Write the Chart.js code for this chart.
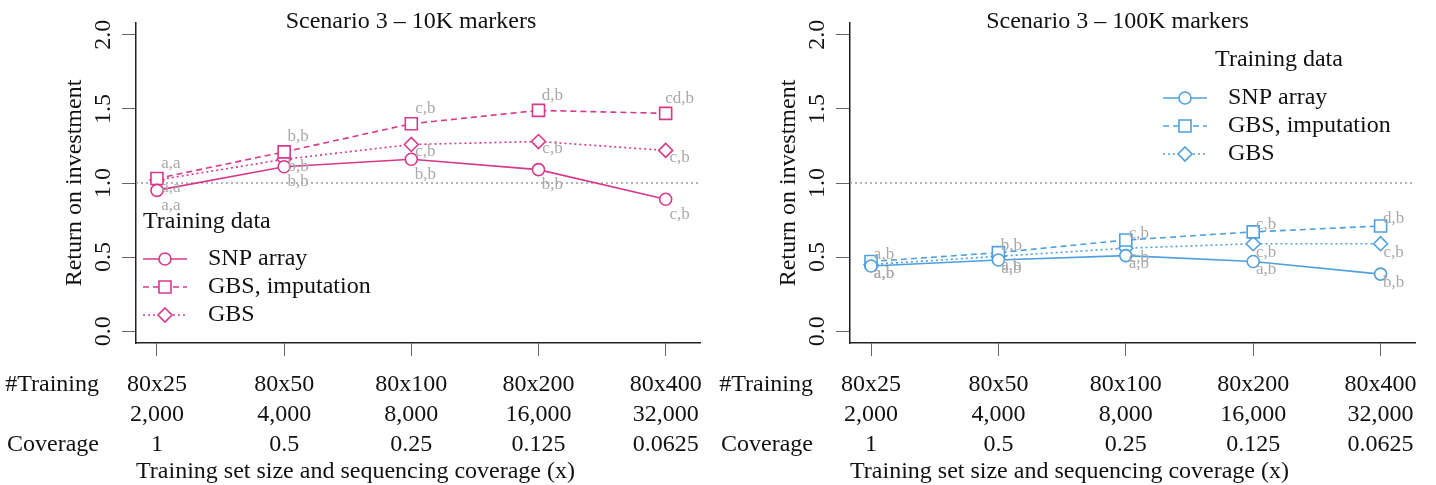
<!DOCTYPE html>
<html>
<head>
<meta charset="utf-8">
<script src="https://cdn.jsdelivr.net/npm/chart.js@4.4.0/dist/chart.umd.min.js"></script>
<style>
body{margin:0;background:#fff;}
#wrap{position:relative;width:1436px;height:485px;}
canvas{position:absolute;top:0;}
</style>
</head>
<body>
<div id="wrap">
<canvas id="c10k" width="718" height="485" style="left:0"></canvas>
<canvas id="c100k" width="718" height="485" style="left:718px"></canvas>
</div>
<script>
// x categories (training scenarios), shared by both panels
const xPos = [0, 1, 2, 3, 4];
const trainingSets = ['80x25', '80x50', '80x100', '80x200', '80x400'];
const trainingSizes = ['2,000', '4,000', '8,000', '16,000', '32,000'];
const coverages = ['1', '0.5', '0.25', '0.125', '0.0625'];
const yTicks = [0, 0.5, 1, 1.5, 2];
const seriesNames = ['SNP array', 'GBS, imputation', 'GBS'];

// Scenario 3 - 10K markers
const snp10k = [0.95, 1.11, 1.16, 1.09, 0.89];
const imp10k = [1.03, 1.21, 1.40, 1.49, 1.47];
const gbs10k = [1.02, 1.16, 1.26, 1.28, 1.22];
const snpLetters10k = ['a,a', 'b,b', 'b,b', 'b,b', 'c,b'];
const impLetters10k = ['a,a', 'b,b', 'c,b', 'd,b', 'cd,b'];
const gbsLetters10k = ['a,a', 'b,b', 'c,b', 'c,b', 'c,b'];

// Scenario 3 - 100K markers
const snp100k = [0.44, 0.48, 0.51, 0.47, 0.385];
const imp100k = [0.47, 0.53, 0.615, 0.67, 0.71];
const gbs100k = [0.45, 0.505, 0.56, 0.59, 0.59];
const snpLetters100k = ['a,b', 'a,b', 'a,b', 'a,b', 'b,b'];
const impLetters100k = ['a,b', 'b,b', 'c,b', 'c,b', 'd,b'];
const gbsLetters100k = ['a,b', 'a,b', 'c,b', 'c,b', 'c,b'];

const SERIF = '"Liberation Serif", "Times New Roman", serif';
Chart.defaults.font.family = SERIF;
Chart.defaults.color = '#111';

function drawMarker(ctx, style, x, y, r) {
    ctx.beginPath();
    if (style === 'circle') {
        ctx.arc(x, y, r, 0, Math.PI * 2);
    } else if (style === 'rect') {
        const s = r * Math.SQRT1_2;
        ctx.rect(x - s, y - s, 2 * s, 2 * s);
    } else {
        ctx.moveTo(x, y - r); ctx.lineTo(x + r, y); ctx.lineTo(x, y + r); ctx.lineTo(x - r, y);
        ctx.closePath();
    }
    ctx.fill();
    ctx.stroke();
}

// dotted line at ROI = 1
const refLine = {
    id: 'refLine',
    beforeDatasetsDraw(chart, args, o) {
        const ctx = chart.ctx, a = chart.chartArea;
        const y = chart.scales.y.getPixelForValue(o.value);
        ctx.save();
        ctx.strokeStyle = '#9a9a9a';
        ctx.lineWidth = 1.3;
        ctx.setLineDash([2, 3]);
        ctx.beginPath(); ctx.moveTo(a.left, y); ctx.lineTo(a.right, y); ctx.stroke();
        ctx.restore();
    }
};

// grey significance letters next to each point
const letters = {
    id: 'letters',
    afterDatasetsDraw(chart, args, o) {
        const ctx = chart.ctx;
        ctx.save();
        ctx.font = '17px ' + SERIF;
        ctx.fillStyle = '#a9a9a9';
        ctx.textAlign = 'center';
        ctx.textBaseline = 'middle';
        chart.data.datasets.forEach((ds, di) => {
            chart.getDatasetMeta(di).data.forEach((pt, i) => {
                ctx.fillText(ds.letters[i], pt.x + o.dx, pt.y + ds.letterDy);
            });
        });
        ctx.restore();
    }
};

// title, row headers of the x table, legend
const frame = {
    id: 'frame',
    afterDraw(chart, args, o) {
        const ctx = chart.ctx, a = chart.chartArea, xs = chart.scales.x;
        ctx.save();
        ctx.fillStyle = '#111';
        ctx.font = '24px ' + SERIF;
        ctx.textBaseline = 'middle';
        ctx.textAlign = 'center';
        ctx.fillText(o.title, (a.left + a.right) / 2 + o.titleShift, 22);

        const row0 = xs.top + 13 + 14 + 15;
        ctx.textAlign = 'right';
        ctx.fillText('#Training', a.left - 37, row0);
        ctx.fillText('Coverage', a.left - 37, row0 + 60);

        // legend
        const lg = o.legend;
        ctx.textAlign = lg.titleAlign;
        ctx.fillText('Training data', lg.titleX, lg.titleY);
        ctx.textAlign = 'left';
        chart.data.datasets.forEach((ds, i) => {
            const y = lg.rowY + i * lg.step;
            ctx.strokeStyle = ds.borderColor;
            ctx.lineWidth = ds.borderWidth;
            ctx.setLineDash(ds.borderDash);
            ctx.beginPath(); ctx.moveTo(lg.x, y); ctx.lineTo(lg.x + 44, y); ctx.stroke();
            ctx.setLineDash([]);
            ctx.fillStyle = '#fff';
            drawMarker(ctx, ds.pointStyle, lg.x + 22, y, ds.pointRadius);
            ctx.fillStyle = '#111';
            ctx.fillText(ds.label, lg.x + 65, y);
        });
        ctx.restore();
    }
};

function series(name, values, color, style, radius, dash, lett, dy) {
    return {
        label: name,
        data: values.map((v, i) => ({x: xPos[i], y: v})),
        borderColor: color,
        borderWidth: 1.6,
        borderDash: dash,
        pointStyle: style,
        pointRadius: radius,
        pointBorderWidth: 1.6,
        pointBorderColor: color,
        pointBackgroundColor: '#fff',
        tension: 0,
        letters: lett,
        letterDy: dy
    };
}

function makePanel(id, p) {
    return new Chart(document.getElementById(id), {
        type: 'line',
        data: {
            datasets: [
                series(seriesNames[0], p.snp, p.color, 'circle', 6, [], p.snpLetters, p.dy[0]),
                series(seriesNames[1], p.imp, p.color, 'rect', 8.5, [6, 4], p.impLetters, p.dy[1]),
                series(seriesNames[2], p.gbs, p.color, 'rectRot', 7, [2, 3], p.gbsLetters, p.dy[2])
            ]
        },
        options: {
            responsive: false,
            animation: false,
            devicePixelRatio: 1,
            layout: {padding: {top: 23, right: p.padRight, left: 0, bottom: 0}},
            plugins: {
                legend: {display: false},
                tooltip: {enabled: false},
                refLine: {value: 1},
                letters: {dx: p.dx},
                frame: {title: p.title, titleShift: p.titleShift, legend: p.legend}
            },
            scales: {
                x: {
                    type: 'linear',
                    min: -0.165,
                    max: 4.27,
                    afterBuildTicks: s => { s.ticks = xPos.map(v => ({value: v})); },
                    afterFit: s => { s.height = 142; },
                    ticks: {
                        autoSkip: false,
                        maxRotation: 0,
                        padding: 14,
                        color: '#111',
                        font: {size: 24, lineHeight: '30px'},
                        callback: v => [trainingSets[v], trainingSizes[v], coverages[v]]
                    },
                    grid: {drawOnChartArea: false, tickLength: 13, color: '#666'},
                    border: {display: true, color: '#222', width: 1.5},
                    title: {
                        display: true,
                        align: 'start',
                        text: 'Training set size and sequencing coverage (x)',
                        color: '#111',
                        font: {size: 24, lineHeight: 1},
                        padding: {top: 0, bottom: 1}
                    }
                },
                y: {
                    min: -0.08,
                    max: 2.08,
                    afterBuildTicks: s => { s.ticks = yTicks.map(v => ({value: v})); },
                    afterFit: s => { s.width = p.axisLeft; },
                    ticks: {
                        minRotation: 90,
                        maxRotation: 90,
                        crossAlign: 'center',
                        padding: 3,
                        color: '#111',
                        font: {size: 24},
                        callback: v => v.toFixed(1)
                    },
                    grid: {drawOnChartArea: false, tickLength: 14, color: '#666'},
                    border: {display: true, color: '#222', width: 1.5},
                    title: {
                        display: true,
                        text: 'Return on investment',
                        color: '#111',
                        font: {size: 24, lineHeight: 1.2},
                        padding: {top: p.yTitlePad, bottom: 0}
                    }
                }
            }
        },
        plugins: [refLine, letters, frame]
    });
}

makePanel('c10k', {
    title: 'Scenario 3 \u2013 10K markers', titleShift: -7,
    color: '#d8388c',
    snp: snp10k, imp: imp10k, gbs: gbs10k,
    snpLetters: snpLetters10k, impLetters: impLetters10k, gbsLetters: gbsLetters10k,
    dx: 14, dy: [15, -15, 7],
    axisLeft: 136, padRight: 18, yTitlePad: 60,
    legend: {titleX: 143, titleAlign: 'left', titleY: 222, x: 143, rowY: 259, step: 28}
});

makePanel('c100k', {
    title: 'Scenario 3 \u2013 100K markers', titleShift: -15,
    color: '#4ea0e0',
    snp: snp100k, imp: imp100k, gbs: gbs100k,
    snpLetters: snpLetters100k, impLetters: impLetters100k, gbsLetters: gbsLetters100k,
    dx: 13, dy: [8, -7, 9],
    axisLeft: 132, padRight: 21, yTitlePad: 56,
    legend: {titleX: 561, titleAlign: 'center', titleY: 60, x: 445, rowY: 98, step: 28}
});
</script>
</body>
</html>
